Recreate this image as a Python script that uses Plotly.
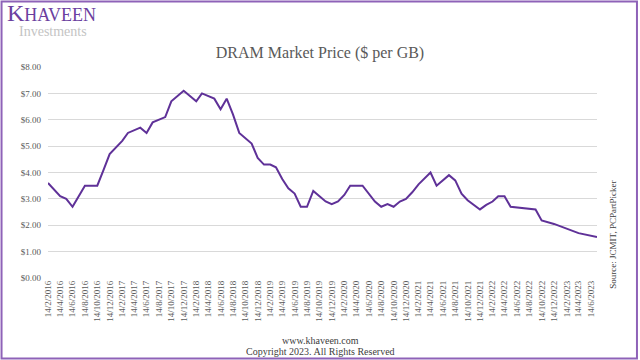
import plotly.graph_objects as go

# ---- data ----
dates = [
    "2016-02-14", "2016-04-14", "2016-05-14", "2016-06-14", "2016-08-14", "2016-10-14",
    "2016-11-14", "2016-12-14", "2017-02-14", "2017-03-14", "2017-05-14", "2017-06-14",
    "2017-07-14", "2017-09-14", "2017-10-14", "2017-12-14", "2018-02-14", "2018-03-14",
    "2018-05-14", "2018-06-14", "2018-07-14", "2018-08-14", "2018-09-14", "2018-11-14",
    "2018-12-14", "2019-01-14", "2019-02-14", "2019-03-14", "2019-04-14", "2019-05-14",
    "2019-06-14", "2019-07-14", "2019-08-14", "2019-09-14", "2019-11-14", "2019-12-14",
    "2020-01-14", "2020-02-14", "2020-03-14", "2020-05-14", "2020-07-14", "2020-08-14",
    "2020-09-14", "2020-10-14", "2020-11-14", "2020-12-14", "2021-01-14", "2021-02-14",
    "2021-04-14", "2021-05-14", "2021-07-14", "2021-08-14", "2021-09-14", "2021-10-14",
    "2021-12-14", "2022-01-14", "2022-02-14", "2022-03-14", "2022-04-14", "2022-05-14",
    "2022-09-14", "2022-10-14", "2022-12-14", "2023-02-14", "2023-04-14", "2023-07-14",
]
prices = [
    3.60, 3.10, 3.00, 2.70, 3.50, 3.50,
    4.10, 4.70, 5.20, 5.50, 5.70, 5.50,
    5.90, 6.10, 6.70, 7.10, 6.70, 7.00,
    6.80, 6.40, 6.80, 6.20, 5.50, 5.10,
    4.55, 4.30, 4.30, 4.20, 3.75, 3.40,
    3.20, 2.70, 2.70, 3.30, 2.90, 2.80,
    2.90, 3.15, 3.50, 3.50, 2.90, 2.70,
    2.80, 2.70, 2.90, 3.00, 3.25, 3.55,
    4.00, 3.50, 3.90, 3.70, 3.20, 2.95,
    2.60, 2.77, 2.90, 3.10, 3.10, 2.70,
    2.60, 2.18, 2.05, 1.88, 1.70, 1.55,
]

tick_dates = [
    "2016-02-14", "2016-04-14", "2016-06-14", "2016-08-14", "2016-10-14", "2016-12-14",
    "2017-02-14", "2017-04-14", "2017-06-14", "2017-08-14", "2017-10-14", "2017-12-14",
    "2018-02-14", "2018-04-14", "2018-06-14", "2018-08-14", "2018-10-14", "2018-12-14",
    "2019-02-14", "2019-04-14", "2019-06-14", "2019-08-14", "2019-10-14", "2019-12-14",
    "2020-02-14", "2020-04-14", "2020-06-14", "2020-08-14", "2020-10-14", "2020-12-14",
    "2021-02-14", "2021-04-14", "2021-06-14", "2021-08-14", "2021-10-14", "2021-12-14",
    "2022-02-14", "2022-04-14", "2022-06-14", "2022-08-14", "2022-10-14", "2022-12-14",
    "2023-02-14", "2023-04-14", "2023-06-14",
]
tick_labels = [
    "14/2/2016", "14/4/2016", "14/6/2016", "14/8/2016", "14/10/2016", "14/12/2016",
    "14/2/2017", "14/4/2017", "14/6/2017", "14/8/2017", "14/10/2017", "14/12/2017",
    "14/2/2018", "14/4/2018", "14/6/2018", "14/8/2018", "14/10/2018", "14/12/2018",
    "14/2/2019", "14/4/2019", "14/6/2019", "14/8/2019", "14/10/2019", "14/12/2019",
    "14/2/2020", "14/4/2020", "14/6/2020", "14/8/2020", "14/10/2020", "14/12/2020",
    "14/2/2021", "14/4/2021", "14/6/2021", "14/8/2021", "14/10/2021", "14/12/2021",
    "14/2/2022", "14/4/2022", "14/6/2022", "14/8/2022", "14/10/2022", "14/12/2022",
    "14/2/2023", "14/4/2023", "14/6/2023",
]
y_ticks = [0, 1, 2, 3, 4, 5, 6, 7, 8]
y_tick_labels = ["$0.00", "$1.00", "$2.00", "$3.00", "$4.00", "$5.00", "$6.00", "$7.00", "$8.00"]

# ---- layout geometry (pixels) ----
W, H = 640, 360
PL, PR, PT, PB = 47.5, 597, 66.7, 278.3


def px(x):
    return (x - PL) / (PR - PL)


def py(y):
    return (PB - y) / (PB - PT)


SERIF = "Liberation Serif, Times New Roman, serif"
PURPLE = "#5f3198"
CX = px(320)

fig = go.Figure()
fig.add_trace(go.Scatter(
    x=dates, y=prices, mode="lines",
    line=dict(color=PURPLE, width=2),
    hoverinfo="x+y", showlegend=False,
))

fig.update_layout(
    width=W, height=H,
    margin=dict(l=PL, r=W - PR, t=PT, b=H - PB, pad=0),
    paper_bgcolor="white", plot_bgcolor="white",
    font=dict(family=SERIF, color="#595959", size=9),
    title=dict(text="DRAM Market Price ($ per GB)", x=0.5, xanchor="center",
               y=1 - 52 / H, yanchor="middle",
               font=dict(family=SERIF, size=16, color="#595959")),
    xaxis=dict(
        type="date", range=[dates[0], dates[-1]],
        tickmode="array", tickvals=tick_dates, ticktext=tick_labels,
        tickangle=-90, tickfont=dict(size=9, color="#595959", family=SERIF),
        showgrid=False, showline=False, zeroline=False, ticks="",
        automargin=False,
    ),
    yaxis=dict(
        range=[0, 8], tickmode="array", tickvals=y_ticks, ticktext=y_tick_labels,
        tickfont=dict(size=9, color="#595959", family=SERIF),
        showgrid=True, gridcolor="#d9d9d9", gridwidth=1,
        zeroline=False, showline=False, ticks="", ticklabelstandoff=6,
        automargin=False,
    ),
    shapes=[
        dict(type="rect", xref="paper", yref="paper",
             x0=px(1), x1=px(637), y0=py(359), y1=py(1),
             line=dict(color="#8e62b8", width=2), fillcolor="rgba(0,0,0,0)",
             layer="above"),
    ],
    annotations=[
        dict(text="<span style='font-size:24px'>K</span>HAVEEN", xref="paper", yref="paper",
             x=px(4), y=py(13), xanchor="left", yanchor="middle", showarrow=False,
             font=dict(family=SERIF, size=18, color="#6b3fa0")),
        dict(text="Investments", xref="paper", yref="paper",
             x=px(16), y=py(31), xanchor="left", yanchor="middle", showarrow=False,
             font=dict(family=SERIF, size=14, color="#c4c4c4")),
        dict(text="Source: JCMIT, PCPartPicker", xref="paper", yref="paper",
             x=px(613), y=py(291), xanchor="center", yanchor="bottom", textangle=-90,
             showarrow=False, font=dict(family=SERIF, size=9, color="#404040")),
        dict(text="www.khaveen.com", xref="paper", yref="paper",
             x=CX, y=py(341), xanchor="center",
             yanchor="middle", showarrow=False,
             font=dict(family=SERIF, size=10, color="#404040")),
        dict(text="Copyright 2023. All Rights Reserved", xref="paper", yref="paper",
             x=CX, y=py(352), xanchor="center",
             yanchor="middle", showarrow=False,
             font=dict(family=SERIF, size=10, color="#404040")),
    ],
)

fig.write_html("out.html", config={"displayModeBar": False},
               post_script="document.body.style.margin='0';")
